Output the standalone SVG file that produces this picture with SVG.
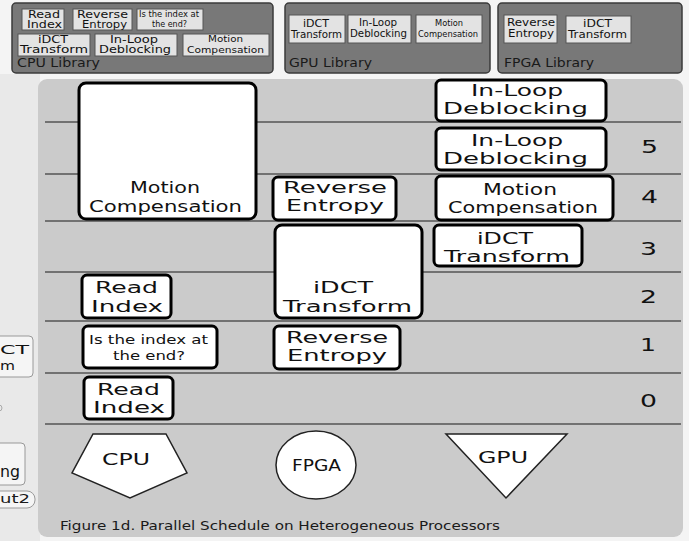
<svg xmlns="http://www.w3.org/2000/svg" width="689" height="541" viewBox="0 0 689 541">
<style>
text{font-family:"DejaVu Sans","Liberation Sans",sans-serif;fill:#111}
.t{font-size:16px}
.t2{font-size:15px}
.s{font-size:13px}
.num{font-size:18px}
.lt{font-size:10px}
.lts{font-size:8px}
.lbl{font-size:12px;fill:#1a1a1a}
.n{fill:#fff;stroke:#000;stroke-width:3}
.lib{fill:#787878;stroke:#3a3a3a;stroke-width:1.5}
.li{fill:#e3e3e3;stroke:#555;stroke-width:1}
.row{stroke:#555;stroke-width:1.5}
.sh{fill:#fff;stroke:#222;stroke-width:1.5}
.ghost{fill:#f5f5f5;stroke:#999;stroke-width:1}
</style>
<rect x="0" y="0" width="689" height="541" fill="#f4f4f4"/>
<rect x="0" y="74" width="40" height="467" fill="#e9e9e9"/>

<!-- partial elements at left edge -->
<g id="edge">
<rect class="ghost" x="-40" y="336" width="73" height="41" rx="4"/>
<text class="s" x="0" y="354" textLength="29" lengthAdjust="spacingAndGlyphs">CT</text>
<text class="s" x="0" y="370" textLength="15" lengthAdjust="spacingAndGlyphs">m</text>
<circle cx="-1" cy="408" r="3" fill="none" stroke="#aaa"/>
<rect class="ghost" x="-40" y="443" width="65" height="42" rx="4"/>
<text class="t" x="0" y="477" textLength="20" lengthAdjust="spacingAndGlyphs">ng</text>
<rect class="ghost" x="-20" y="491" width="55" height="17" rx="8"/>
<text class="lbl" x="0" y="503" textLength="30" lengthAdjust="spacingAndGlyphs">ut2</text>
</g>

<!-- libraries -->
<g id="cpu-library">
<rect class="lib" x="12" y="3" width="261" height="70" rx="4"/>
<rect class="li" x="22" y="9" width="42" height="21"/>
<text class="lt" x="28" y="18" textLength="32" lengthAdjust="spacingAndGlyphs">Read</text>
<text class="lt" x="27" y="28" textLength="35" lengthAdjust="spacingAndGlyphs">Index</text>
<rect class="li" x="73" y="9" width="59" height="21"/>
<text class="lt" x="77" y="18" textLength="51" lengthAdjust="spacingAndGlyphs">Reverse</text>
<text class="lt" x="82" y="28" textLength="45" lengthAdjust="spacingAndGlyphs">Entropy</text>
<rect class="li" x="137" y="9" width="66" height="21"/>
<text class="lts" x="139" y="17" textLength="60" lengthAdjust="spacingAndGlyphs">Is the index at</text>
<text class="lts" x="152" y="27" textLength="35" lengthAdjust="spacingAndGlyphs">the end?</text>
<rect class="li" x="18" y="34" width="72" height="22"/>
<text class="lt" x="38" y="43" textLength="30" lengthAdjust="spacingAndGlyphs">iDCT</text>
<text class="lt" x="20" y="53" textLength="68" lengthAdjust="spacingAndGlyphs">Transform</text>
<rect class="li" x="95" y="34" width="82" height="22"/>
<text class="lt" x="110" y="43" textLength="48" lengthAdjust="spacingAndGlyphs">In-Loop</text>
<text class="lt" x="99" y="53" textLength="72" lengthAdjust="spacingAndGlyphs">Deblocking</text>
<rect class="li" x="183" y="34" width="86" height="22"/>
<text class="lts" x="208" y="42" textLength="35" lengthAdjust="spacingAndGlyphs">Motion</text>
<text class="lts" x="187" y="53" textLength="77" lengthAdjust="spacingAndGlyphs">Compensation</text>
<text class="lbl" x="17" y="67" textLength="83" lengthAdjust="spacingAndGlyphs">CPU Library</text>
</g>

<g id="gpu-library">
<rect class="lib" x="285" y="3" width="205" height="70" rx="4"/>
<rect class="li" x="289" y="15" width="56" height="28"/>
<text class="lt" x="303" y="27" textLength="26" lengthAdjust="spacingAndGlyphs">iDCT</text>
<text class="lt" x="291" y="38" textLength="51" lengthAdjust="spacingAndGlyphs">Transform</text>
<rect class="li" x="348" y="15" width="63" height="28"/>
<text class="lt" x="359" y="26" textLength="38" lengthAdjust="spacingAndGlyphs">In-Loop</text>
<text class="lt" x="350" y="37" textLength="57" lengthAdjust="spacingAndGlyphs">Deblocking</text>
<rect class="li" x="416" y="15" width="66" height="28"/>
<text class="lts" x="435" y="26" textLength="28" lengthAdjust="spacingAndGlyphs">Motion</text>
<text class="lts" x="418" y="37" textLength="60" lengthAdjust="spacingAndGlyphs">Compensation</text>
<text class="lbl" x="289" y="67" textLength="83" lengthAdjust="spacingAndGlyphs">GPU Library</text>
</g>

<g id="fpga-library">
<rect class="lib" x="498" y="3" width="184" height="70" rx="4"/>
<rect class="li" x="504" y="15" width="53" height="28"/>
<text class="lt" x="507" y="26" textLength="48" lengthAdjust="spacingAndGlyphs">Reverse</text>
<text class="lt" x="508" y="37" textLength="46" lengthAdjust="spacingAndGlyphs">Entropy</text>
<rect class="li" x="566" y="16" width="65" height="27"/>
<text class="lt" x="583" y="27" textLength="29" lengthAdjust="spacingAndGlyphs">iDCT</text>
<text class="lt" x="568" y="38" textLength="59" lengthAdjust="spacingAndGlyphs">Transform</text>
<text class="lbl" x="504" y="67" textLength="90" lengthAdjust="spacingAndGlyphs">FPGA Library</text>
</g>

<!-- schedule panel -->
<rect x="38" y="79" width="645" height="458" rx="9" fill="#cbcbcb"/>

<g id="grid">
<line class="row" x1="45" y1="122" x2="681" y2="122"/>
<line class="row" x1="45" y1="174" x2="681" y2="174"/>
<line class="row" x1="45" y1="221" x2="681" y2="221"/>
<line class="row" x1="45" y1="272" x2="681" y2="272"/>
<line class="row" x1="45" y1="321" x2="681" y2="321"/>
<line class="row" x1="45" y1="373" x2="681" y2="373"/>
<line class="row" x1="45" y1="424" x2="681" y2="424"/>
</g>

<g id="step-labels">
<text class="num" x="641" y="153" textLength="17" lengthAdjust="spacingAndGlyphs">5</text>
<text class="num" x="641" y="203" textLength="17" lengthAdjust="spacingAndGlyphs">4</text>
<text class="num" x="640" y="255" textLength="17" lengthAdjust="spacingAndGlyphs">3</text>
<text class="num" x="640" y="303" textLength="17" lengthAdjust="spacingAndGlyphs">2</text>
<text class="num" x="640" y="351" textLength="16" lengthAdjust="spacingAndGlyphs">1</text>
<text class="num" x="640" y="407" textLength="17" lengthAdjust="spacingAndGlyphs">0</text>
</g>

<g id="mc-cpu">
<rect class="n" x="79" y="83" width="177" height="136" rx="7"/>
<text class="t" x="130" y="193" textLength="70" lengthAdjust="spacingAndGlyphs">Motion</text>
<text class="t" x="89" y="212" textLength="153" lengthAdjust="spacingAndGlyphs">Compensation</text>
</g>
<g id="re-fpga-4">
<rect class="n" x="273" y="177" width="123" height="43" rx="5"/>
<text class="t2" x="283" y="193" textLength="104" lengthAdjust="spacingAndGlyphs">Reverse</text>
<text class="t2" x="286" y="211" textLength="98" lengthAdjust="spacingAndGlyphs">Entropy</text>
</g>
<g id="idct-fpga">
<rect class="n" x="275" y="225" width="147" height="93" rx="7"/>
<text class="t" x="313" y="293" textLength="60" lengthAdjust="spacingAndGlyphs">iDCT</text>
<text class="t" x="283" y="312" textLength="129" lengthAdjust="spacingAndGlyphs">Transform</text>
</g>
<g id="re-fpga-1">
<rect class="n" x="274" y="326" width="126" height="43" rx="5"/>
<text class="t2" x="286" y="343" textLength="102" lengthAdjust="spacingAndGlyphs">Reverse</text>
<text class="t2" x="287" y="361" textLength="100" lengthAdjust="spacingAndGlyphs">Entropy</text>
</g>
<g id="il-gpu-6">
<rect class="n" x="436" y="80" width="170" height="41" rx="5"/>
<text class="t2" x="471" y="96" textLength="92" lengthAdjust="spacingAndGlyphs">In-Loop</text>
<text class="t2" x="443" y="114" textLength="145" lengthAdjust="spacingAndGlyphs">Deblocking</text>
</g>
<g id="il-gpu-5">
<rect class="n" x="436" y="128" width="170" height="42" rx="5"/>
<text class="t2" x="471" y="146" textLength="92" lengthAdjust="spacingAndGlyphs">In-Loop</text>
<text class="t2" x="443" y="164" textLength="145" lengthAdjust="spacingAndGlyphs">Deblocking</text>
</g>
<g id="mc-gpu">
<rect class="n" x="436" y="176" width="177" height="44" rx="5"/>
<text class="t2" x="483" y="195" textLength="74" lengthAdjust="spacingAndGlyphs">Motion</text>
<text class="t2" x="448" y="213" textLength="150" lengthAdjust="spacingAndGlyphs">Compensation</text>
</g>
<g id="idct-gpu">
<rect class="n" x="434" y="225" width="148" height="41" rx="5"/>
<text class="t2" x="477" y="244" textLength="56" lengthAdjust="spacingAndGlyphs">iDCT</text>
<text class="t2" x="444" y="262" textLength="126" lengthAdjust="spacingAndGlyphs">Transform</text>
</g>
<g id="ri-cpu-2">
<rect class="n" x="82" y="275" width="89" height="43" rx="5"/>
<text class="t" x="95" y="293" textLength="63" lengthAdjust="spacingAndGlyphs">Read</text>
<text class="t" x="91" y="312" textLength="72" lengthAdjust="spacingAndGlyphs">Index</text>
</g>
<g id="end-cpu-1">
<rect class="n" x="83" y="326" width="134" height="42" rx="5"/>
<text class="s" x="89" y="344" textLength="119" lengthAdjust="spacingAndGlyphs">Is the index at</text>
<text class="s" x="113" y="360" textLength="72" lengthAdjust="spacingAndGlyphs">the end?</text>
</g>
<g id="ri-cpu-0">
<rect class="n" x="84" y="377" width="89" height="42" rx="5"/>
<text class="t" x="97" y="395" textLength="63" lengthAdjust="spacingAndGlyphs">Read</text>
<text class="t" x="93" y="413" textLength="72" lengthAdjust="spacingAndGlyphs">Index</text>
</g>

<g id="proc-cpu">
<polygon class="sh" points="93,434 166,434 187,473 130,498 72,473"/>
<text class="t" x="102" y="465" textLength="48" lengthAdjust="spacingAndGlyphs">CPU</text>
</g>
<g id="proc-fpga">
<ellipse class="sh" cx="316" cy="465" rx="40" ry="34"/>
<text class="t" x="292" y="471" textLength="49" lengthAdjust="spacingAndGlyphs">FPGA</text>
</g>
<g id="proc-gpu">
<polygon class="sh" points="446,434 567,434 506,498"/>
<text class="t" x="478" y="463" textLength="50" lengthAdjust="spacingAndGlyphs">GPU</text>
</g>

<text class="lbl" x="60" y="530" textLength="440" lengthAdjust="spacingAndGlyphs">Figure 1d. Parallel Schedule on Heterogeneous Processors</text>
</svg>
